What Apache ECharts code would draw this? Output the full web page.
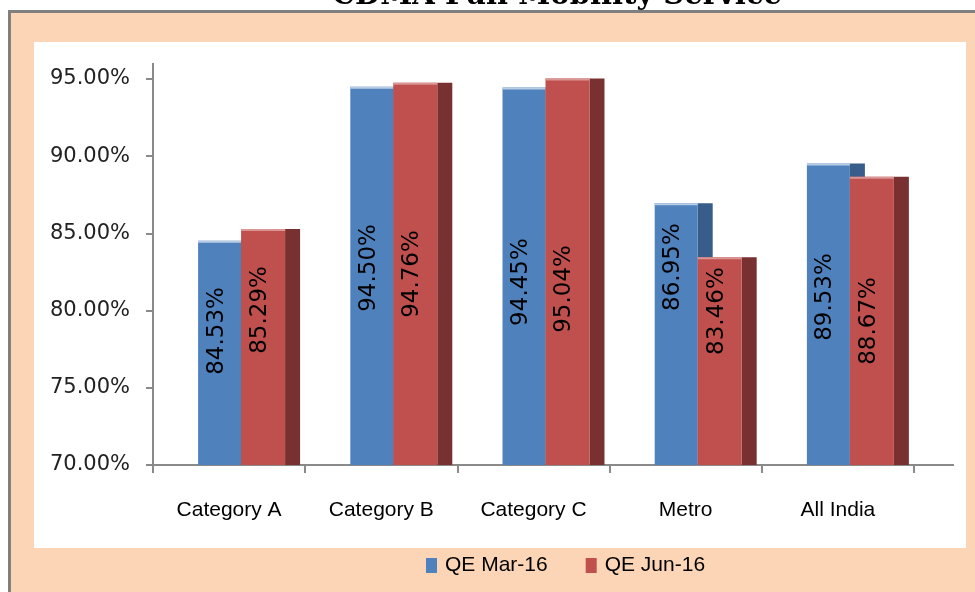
<!DOCTYPE html>
<html>
<head>
<meta charset="utf-8">
<script src="https://cdn.jsdelivr.net/npm/echarts@6/dist/echarts.min.js"></script>
<style>
html,body{margin:0;padding:0;background:#fff;}
#chart{width:975px;height:592px;}
</style>
</head>
<body>
<div id="chart"></div>
<script>
// ---- data ----
const TITLE = 'CDMA Full Mobility Service';
const CATEGORIES = ['Category A', 'Category B', 'Category C', 'Metro', 'All India'];
const SERIES_NAMES = ['QE Mar-16', 'QE Jun-16'];
const QE_MAR_16 = [84.53, 94.50, 94.45, 86.95, 89.53];
const QE_JUN_16 = [85.29, 94.76, 95.04, 83.46, 88.67];
const Y_TICKS = [70, 75, 80, 85, 90, 95];
// where (in axis units) each value label is centred
const LABEL_AT_MAR = [78.68, 82.76, 81.85, 82.82, 80.88];
const LABEL_AT_JUN = [80.04, 82.37, 81.40, 79.97, 79.33];

// ---- styles ----
const COLORS = ['#4F81BD', '#C0504D'];
const SIDE_COLORS = ['#385D8A', '#783030'];
const HILITE = ['#B9CDE5', '#D99694'];
const FACE = [{ off: -0.2037, w: 0.2825 }, { off: 0.0788, w: 0.289 }];
const SIDE_W = 0.0986;
const LABEL_AT = [LABEL_AT_MAR, LABEL_AT_JUN];
const AXIS_GRAY = '#8a8a8a';

function renderItem(params, api) {
  const s = params.seriesIndex;
  const idx = api.value(0), v = api.value(1);
  const top = api.coord([idx, v]);
  const base = api.coord([idx, Y_TICKS[0]]);
  const band = api.size([1, 0])[0];
  const x0 = top[0] + FACE[s].off * band;
  const w = FACE[s].w * band;
  const sw = SIDE_W * band;
  const h = base[1] - top[1];
  const lab = api.coord([idx, LABEL_AT[s][params.dataIndex]]);
  return {
    type: 'group',
    children: [
      { type: 'rect', shape: { x: x0 + w, y: top[1], width: sw, height: h }, style: { fill: SIDE_COLORS[s] } },
      { type: 'rect', shape: { x: x0, y: top[1], width: w, height: h }, style: { fill: COLORS[s] } },
      { type: 'rect', shape: { x: x0, y: top[1], width: w, height: 2 }, style: { fill: HILITE[s] } },
      {
        type: 'text', x: x0 + w / 2 - 3, y: lab[1], rotation: Math.PI / 2,
        style: { text: v.toFixed(2) + '%', fill: '#000', font: '23px "DejaVu Sans"', align: 'center', verticalAlign: 'middle' }
      }
    ]
  };
}

const chart = echarts.init(document.getElementById('chart'), null, { renderer: 'canvas' });
const seriesData = [QE_MAR_16, QE_JUN_16];

chart.setOption({
  animation: false,
  backgroundColor: '#ffffff',
  graphic: [
    { type: 'rect', z: -20, shape: { x: 10, y: 12, width: 970, height: 590 }, style: { fill: '#FBD5B5' } },
    { type: 'line', z: -19, shape: { x1: 8, y1: 11.5, x2: 980, y2: 11.5 }, style: { stroke: '#808080', lineWidth: 3 } },
    { type: 'line', z: -19, shape: { x1: 9.5, y1: 10, x2: 9.5, y2: 600 }, style: { stroke: '#808080', lineWidth: 3 } },
    { type: 'rect', z: -18, shape: { x: 34, y: 42, width: 932, height: 506 }, style: { fill: '#ffffff' } },
    { type: 'line', z: 1, shape: { x1: 913, y1: 465, x2: 954, y2: 465 }, style: { stroke: AXIS_GRAY, lineWidth: 2 } },
    { type: 'line', z: 1, shape: { x1: 153, y1: 63, x2: 153, y2: 80 }, style: { stroke: AXIS_GRAY, lineWidth: 2 } },
    {
      type: 'text', z: 5, x: 557, y: 11,
      style: { text: TITLE, fill: '#000', font: 'bold 29px "DejaVu Serif"', align: 'center', verticalAlign: 'bottom' }
    }
  ],
  grid: { left: 153, right: 61, top: 79, bottom: 127, containLabel: false },
  legend: {
    data: SERIES_NAMES,
    left: 426, top: 555, padding: 0,
    icon: 'rect', itemWidth: 11, itemHeight: 15, itemGap: 38,
    textStyle: { color: '#000', fontSize: 21, fontFamily: '"Liberation Sans"', padding: [0, 0, 0, 3] }
  },
  xAxis: {
    type: 'category',
    data: CATEGORIES,
    axisLine: { lineStyle: { color: AXIS_GRAY, width: 2 } },
    axisTick: { show: true, length: 8, lineStyle: { color: AXIS_GRAY, width: 2 } },
    axisLabel: { color: '#000', fontSize: 21, fontFamily: '"Liberation Sans"', margin: 35 },
    splitLine: { show: false }
  },
  yAxis: {
    type: 'value',
    min: Y_TICKS[0], max: Y_TICKS[Y_TICKS.length - 1], interval: 5,
    axisLine: { show: true, lineStyle: { color: AXIS_GRAY, width: 2 } },
    axisTick: { show: true, length: 7, lineStyle: { color: AXIS_GRAY, width: 2 } },
    axisLabel: { color: '#222', fontSize: 21, fontFamily: '"DejaVu Sans"', margin: 23, formatter: v => v.toFixed(2) + '%' },
    splitLine: { show: false }
  },
  series: seriesData.map((vals, s) => ({
    type: 'custom',
    name: SERIES_NAMES[s],
    renderItem: renderItem,
    itemStyle: { color: COLORS[s] },
    encode: { x: 0, y: 1 },
    clip: false,
    data: vals.map((v, i) => [i, v])
  }))
});
</script>
</body>
</html>
